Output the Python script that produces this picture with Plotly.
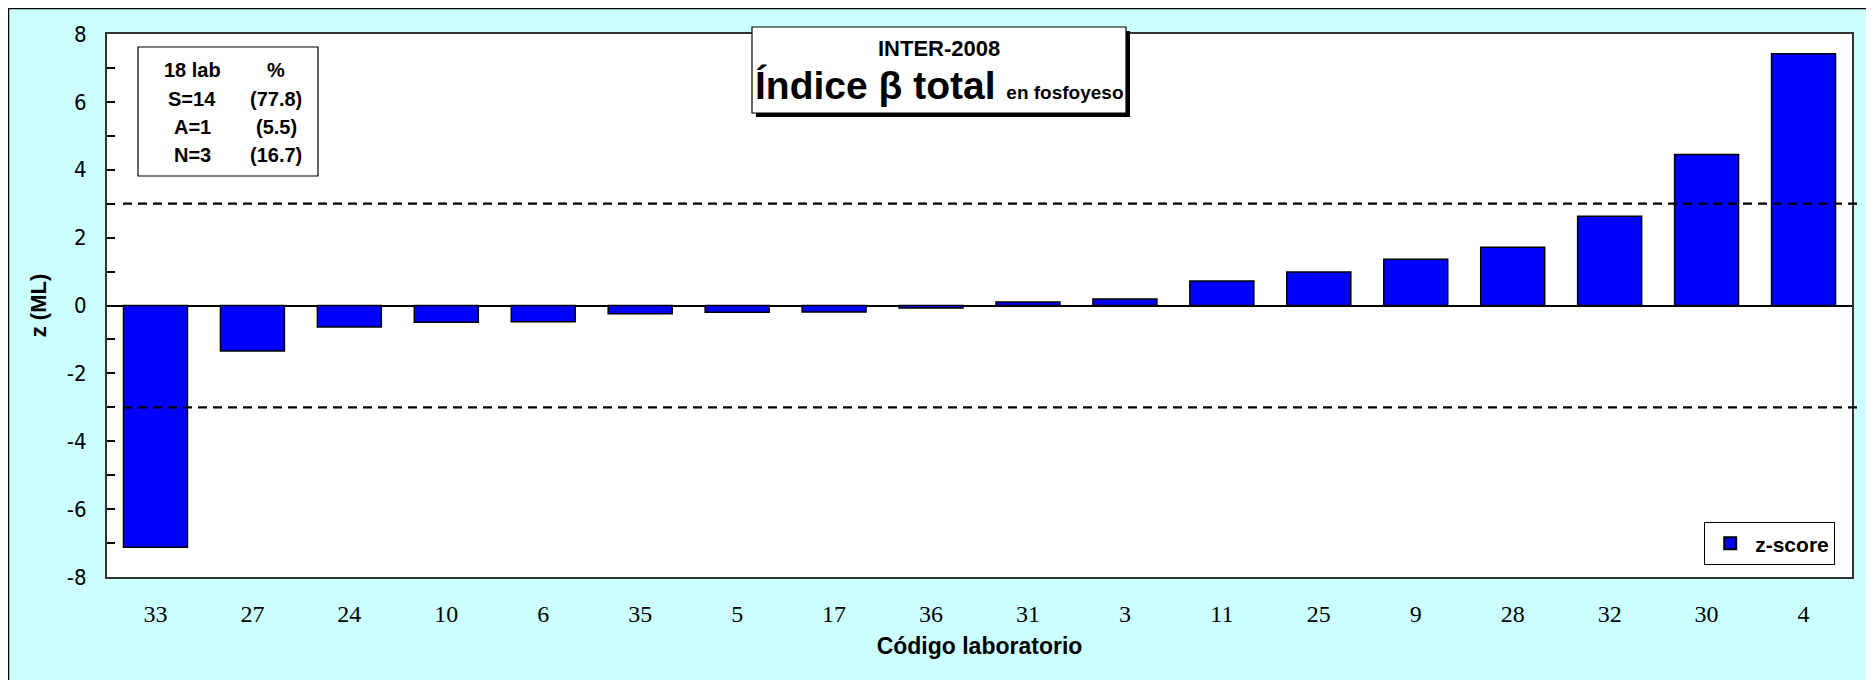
import plotly.graph_objects as go

labs = ["33", "27", "24", "10", "6", "35", "5", "17", "36", "31", "3", "11", "25", "9", "28", "32", "30", "4"]
zscores = [-7.12, -1.34, -0.63, -0.49, -0.48, -0.24, -0.20, -0.19, -0.07, 0.10, 0.19, 0.72, 0.99, 1.36, 1.72, 2.63, 4.45, 7.42]
limits = [3, -3]
y_ticks = [-8, -6, -4, -2, 0, 2, 4, 6, 8]
stats_rows = [("18 lab", "%"), ("S=14", "(77.8)"), ("A=1", "(5.5)"), ("N=3", "(16.7)")]

# the page places the figure 8px from the window's top-left corner
OFF = 8
W, H = 1874 - OFF, 680 - OFF
PL, PT, PR, PB = 107, 34, 1852, 577  # plot area in window pixels
L, T = PL - OFF, PT - OFF
R, B = W - (PR - OFF), H - (PB - OFF)
PW, PH = PR - PL, PB - PT

def px(x):
    return (x - PL) / PW

def py(y):
    return (PB - y) / PH

XFONT = "Liberation Sans Narrow"
YFONT = "DejaVu Sans Condensed"
BOLD = "Liberation Sans, Arial, sans-serif"

fig = go.Figure()
fig.add_trace(go.Bar(
    x=labs, y=zscores, name="z-score",
    marker=dict(color="#0000FF", line=dict(color="#000000", width=1.5)),
))

shapes = [
    dict(type="rect", xref="paper", yref="paper", x0=px(8.5), x1=px(1873), y0=py(700), y1=py(8.5),
         fillcolor="#CCFFFF", line=dict(color="#000000", width=1.5), layer="below"),
    dict(type="rect", xref="paper", yref="paper", x0=0, x1=1, y0=0, y1=1,
         fillcolor="#FFFFFF", line=dict(width=0), layer="below"),
]
for lv in limits:
    shapes.append(dict(type="line", xref="paper", yref="y", x0=px(123), x1=px(1862), y0=lv, y1=lv,
                       line=dict(color="#000000", width=2.2, dash="9px,6px"), layer="above"))
shapes.append(dict(type="rect", xref="paper", yref="paper", x0=px(138), x1=px(318), y0=py(176), y1=py(47),
                   fillcolor="#FFFFFF", line=dict(color="#000000", width=1.2)))
shapes.append(dict(type="rect", xref="paper", yref="paper", x0=px(756), x1=px(1130), y0=py(117), y1=py(31),
                   fillcolor="#000000", line=dict(width=0)))
shapes.append(dict(type="rect", xref="paper", yref="paper", x0=px(752), x1=px(1126), y0=py(113), y1=py(27),
                   fillcolor="#FFFFFF", line=dict(color="#000000", width=1.2)))

annotations = [
    dict(text="<b>INTER-2008</b>", xref="paper", yref="paper", x=px(939), y=py(48),
         showarrow=False, font=dict(family=BOLD, size=22, color="#000000"), xanchor="center", yanchor="middle"),
    dict(text="<b>Índice β total</b> <b><span style='font-size:19px'>en fosfoyeso</span></b>",
         xref="paper", yref="paper", x=px(939), y=py(85),
         showarrow=False, font=dict(family=BOLD, size=39, color="#000000"), xanchor="center", yanchor="middle"),
]
row_y = [70, 99, 127, 155]
for (a, b), ry in zip(stats_rows, row_y):
    annotations.append(dict(text="<b>%s</b>" % a, xref="paper", yref="paper", x=px(192), y=py(ry),
                            showarrow=False, font=dict(family=BOLD, size=20, color="#000000"),
                            xanchor="center", yanchor="middle"))
    annotations.append(dict(text="<b>%s</b>" % b, xref="paper", yref="paper", x=px(276), y=py(ry),
                            showarrow=False, font=dict(family=BOLD, size=20, color="#000000"),
                            xanchor="center", yanchor="middle"))

fig.update_layout(
    width=W, height=H,
    margin=dict(l=L, r=R, t=T, b=B, pad=0, autoexpand=False),
    paper_bgcolor="#FFFFFF", plot_bgcolor="rgba(0,0,0,0)",
    bargap=0.34,
    shapes=shapes, annotations=annotations,
    showlegend=True,
    legend=dict(x=px(1835), y=py(565), xanchor="right", yanchor="bottom",
                bgcolor="#FFFFFF", bordercolor="#000000", borderwidth=1.2,
                font=dict(family=BOLD, size=21, color="#000000", weight="bold"),
                itemsizing="constant", itemwidth=40),
    xaxis=dict(
        type="category", showgrid=False, ticks="", showline=True, mirror=True, automargin=False,
        linecolor="#333333", linewidth=2,
        tickfont=dict(family=XFONT, size=24, color="#000000"),
        ticklabelstandoff=14,
        title=dict(text="<b>Código laboratorio</b>", font=dict(family=BOLD, size=23, color="#000000"), standoff=12),
    ),
    yaxis=dict(
        range=[-8, 8], tickvals=y_ticks, ticktext=[str(v) for v in y_ticks], automargin=False,
        showgrid=False, showline=True, mirror=True, linecolor="#333333", linewidth=2,
        ticks="inside", ticklen=8, tickwidth=1.5, tickcolor="#000000",
        minor=dict(dtick=1, tick0=0, ticks="inside", ticklen=8, tickwidth=1.5, tickcolor="#000000", showgrid=False),
        zeroline=True, zerolinecolor="#000000", zerolinewidth=2,
        tickfont=dict(family=YFONT, size=22, color="#000000"),
        ticklabelstandoff=14,
        title=dict(text="<b>z (ML)</b>", font=dict(family=BOLD, size=22, color="#000000"), standoff=14),
    ),
)

fig.write_html("out.html")
